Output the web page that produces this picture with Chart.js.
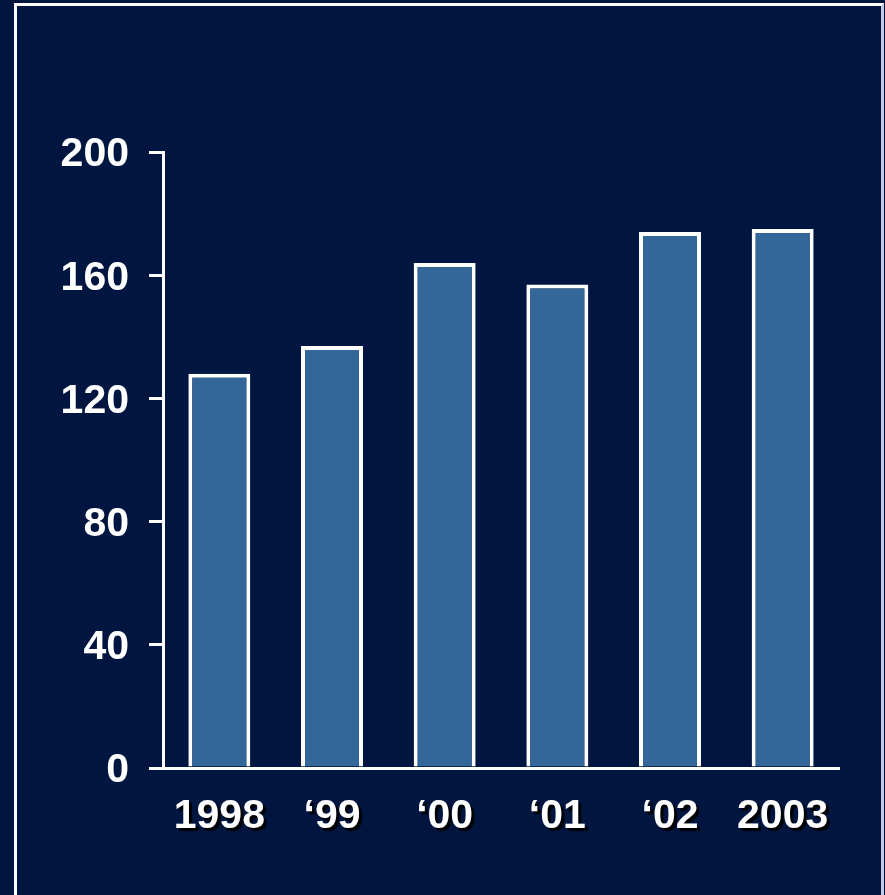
<!DOCTYPE html>
<html>
<head>
<meta charset="utf-8">
<script src="https://cdn.jsdelivr.net/npm/chart.js@4/dist/chart.umd.min.js"></script>
<style>
  html, body { margin: 0; padding: 0; background: #001641; width: 885px; height: 895px; overflow: hidden; }
  #frame { position: absolute; left: 14px; top: 3px; width: 864px; height: 910px;
           border-left: 3px solid #ffffff; border-top: 3px solid #ffffff; border-right: 3px solid #c4cbe0; }
  #wrap { position: absolute; left: 0; top: 0; width: 885px; height: 895px; }
</style>
</head>
<body>
<div id="frame"></div>
<div id="wrap"><canvas id="c" width="885" height="895"></canvas></div>
<script>
const categories = ["1998", "\u201899", "\u201800", "\u201801", "\u201802", "2003"];
const values = [128, 137, 164, 157, 174, 175];
const yTicks = [0, 40, 80, 120, 160, 200];

const FONT = "'Liberation Sans', Arial, sans-serif";

const shadowPlugin = {
  id: 'xLabelShadow',
  afterLayout(chart) {
    const scale = chart.scales.x;
    if (scale.__wrapped) return;
    const orig = scale.drawLabels;
    scale.drawLabels = function (area) {
      const ctx = this.ctx;
      ctx.save();
      ctx.shadowColor = 'rgba(0,0,0,0.95)';
      ctx.shadowOffsetX = 3;
      ctx.shadowOffsetY = 3;
      ctx.shadowBlur = 1;
      orig.call(this, area);
      ctx.restore();
    };
    scale.__wrapped = true;
  }
};

new Chart(document.getElementById('c'), {
  type: 'bar',
  data: {
    labels: categories,
    datasets: [{
      data: values,
      backgroundColor: '#336699',
      borderColor: '#ffffff',
      borderWidth: 4,
      barPercentage: 0.55,
      categoryPercentage: 1.0
    }]
  },
  options: {
    responsive: false,
    animation: false,
    events: [],
    layout: { padding: { left: 0, right: 46, top: 152, bottom: 0 } },
    plugins: { legend: { display: false }, tooltip: { enabled: false }, title: { display: false } },
    scales: {
      x: {
        grid: { display: true, drawOnChartArea: false, drawTicks: false, color: 'rgba(0,0,0,0)' },
        border: { display: true, color: '#ffffff', width: 3 },
        ticks: { color: '#ffffff', font: { family: FONT, size: 41, weight: 'bold' }, padding: 24, maxRotation: 0, autoSkip: false },
        afterFit(scale) { scale.height = 127; }
      },
      y: {
        min: 0, max: 200,
        afterBuildTicks(scale) { scale.ticks = yTicks.map(v => ({ value: v })); },
        grid: { display: true, drawOnChartArea: false, drawTicks: true, tickLength: 14, color: '#ffffff', lineWidth: 3 },
        border: { display: true, color: '#ffffff', width: 3 },
        ticks: { color: '#ffffff', font: { family: FONT, size: 41, weight: 'bold' }, padding: 20, labelOffset: 3 },
        afterFit(scale) { scale.width = 163; }
      }
    }
  },
  plugins: [shadowPlugin]
});
</script>
</body>
</html>
